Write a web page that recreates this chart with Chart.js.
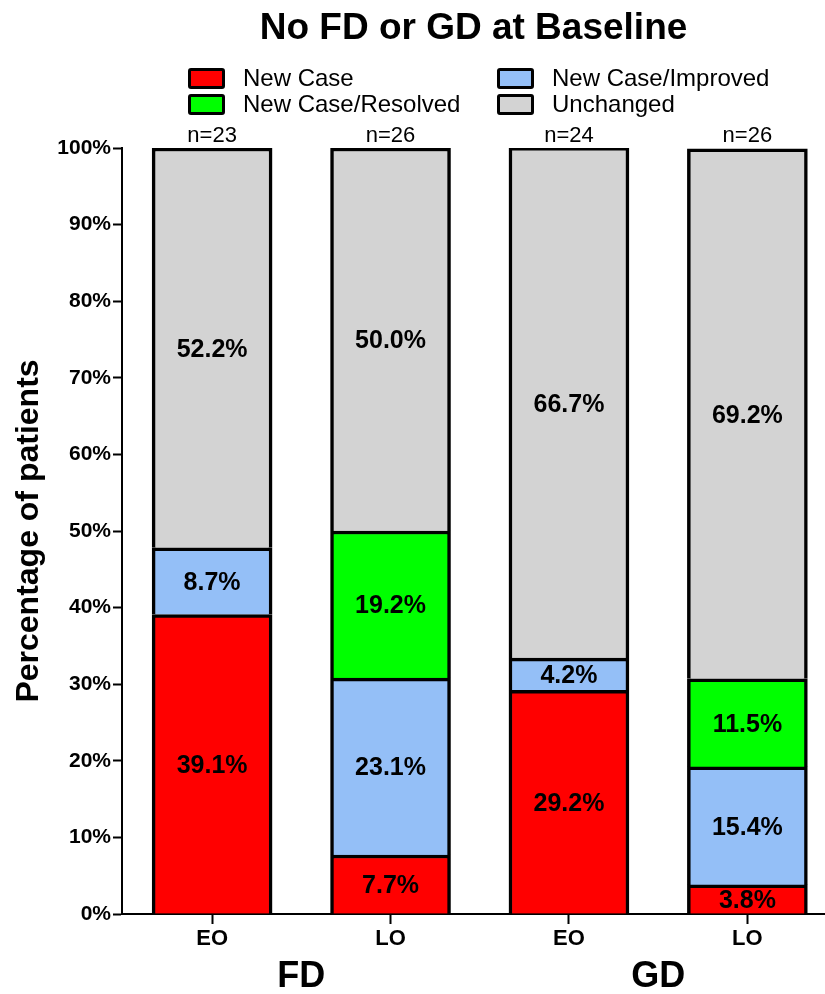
<!DOCTYPE html>
<html>
<head>
<meta charset="utf-8">
<script src="https://cdn.jsdelivr.net/npm/chart.js@4.4.1/dist/chart.umd.min.js"></script>
<style>
    html, body { margin: 0; padding: 0; background: #fff; overflow: hidden; }
    #wrap { position: relative; width: 825px; height: 994px; }
    #legend { position: absolute; left: 188px; top: 65px; font-family: "Liberation Sans", Arial, sans-serif; font-size: 24px; color: #000; }
    .item { position: absolute; white-space: nowrap; display: flex; align-items: center; height: 26px; }
    .box { width: 31px; height: 15px; border: 3px solid #000; border-radius: 3px; margin-right: 18px; }
</style>
</head>
<body>
<div id="wrap">
    <canvas id="chart" width="825" height="994"></canvas>
    <div id="legend"></div>
</div>
<script>
const groups = ['EO', 'LO', 'EO', 'LO'];
const groupTitles = ['FD', 'GD'];
const counts = ['n=23', 'n=26', 'n=24', 'n=26'];

const newCase = [39.1, 7.7, 29.2, 3.8];
const newCaseImproved = [8.7, 23.1, 4.2, 15.4];
const newCaseResolved = [null, 19.2, null, 11.5];
const unchanged = [52.2, 50.0, 66.7, 69.2];

const yTicks = [0, 10, 20, 30, 40, 50, 60, 70, 80, 90, 100];

const series = [
    { label: 'New Case', data: newCase, color: '#FF0000' },
    { label: 'New Case/Improved', data: newCaseImproved, color: '#94BFF7' },
    { label: 'New Case/Resolved', data: newCaseResolved, color: '#00FF00' },
    { label: 'Unchanged', data: unchanged, color: '#D3D3D3' }
];

// legend laid out in two columns like the original
const legendPos = [[0, 0], [309, 0], [0, 26], [309, 26]];
const legendEl = document.getElementById('legend');
series.forEach((s, i) => {
    const div = document.createElement('div');
    div.className = 'item';
    div.style.left = legendPos[i][0] + 'px';
    div.style.top = legendPos[i][1] + 'px';
    div.innerHTML = '<span class="box" style="background:' + s.color + '"></span>' + s.label;
    legendEl.appendChild(div);
});

const FONT = '"Liberation Sans", Arial, sans-serif';

const labelsPlugin = {
    id: 'labels',
    afterDatasetsDraw(chart) {
        const ctx = chart.ctx;
        const x = chart.scales.x;
        ctx.save();
        ctx.fillStyle = '#000';
        ctx.textAlign = 'center';
        ctx.textBaseline = 'middle';
        ctx.font = 'bold 25px ' + FONT;
        chart.data.datasets.forEach((ds, di) => {
            chart.getDatasetMeta(di).data.forEach((bar, k) => {
                const p = ds.data[k];
                const mid = (bar.y + bar.base) / 2;
                ctx.fillText(p.y.toFixed(1) + '%', bar.x, mid + 2);
            });
        });
        ctx.font = '22px ' + FONT;
        counts.forEach((c, i) => ctx.fillText(c, x.getPixelForValue(i), 136));
        ctx.font = 'bold 36px ' + FONT;
        groupTitles.forEach((g, i) => ctx.fillText(g, x.getPixelForValue(i * 2 + 0.5), 977));
        ctx.font = 'bold 37px ' + FONT;
        ctx.fillText('No FD or GD at Baseline', (chart.chartArea.left + chart.chartArea.right) / 2, 29);
        ctx.restore();
    }
};

new Chart(document.getElementById('chart'), {
    type: 'bar',
    data: {
        datasets: series.map(s => ({
            label: s.label,
            data: s.data.map((v, i) => ({ x: i, y: v })).filter(p => p.y !== null),
            backgroundColor: s.color,
            borderColor: '#000',
            borderWidth: 3.5,
            barThickness: 120
        }))
    },
    options: {
        responsive: false,
        animation: false,
        layout: { padding: { top: 148, right: 0, left: 0, bottom: 0 } },
        plugins: { legend: { display: false }, tooltip: { enabled: false } },
        scales: {
            x: {
                type: 'linear',
                stacked: true,
                offset: false,
                min: -0.505,
                max: 3.435,
                afterBuildTicks: s => { s.ticks = groups.map((g, i) => ({ value: i })); },
                afterFit: s => { s.height = 80; },
                grid: { offset: false, drawOnChartArea: false, tickLength: 10, tickColor: '#000', tickWidth: 2 },
                border: { display: true, color: '#000', width: 2 },
                ticks: {
                    callback: v => groups[v],
                    color: '#000',
                    font: { family: FONT, size: 22, weight: 'bold' },
                    padding: 2,
                    maxRotation: 0
                }
            },
            y: {
                stacked: true,
                min: 0,
                max: 100,
                afterBuildTicks: s => { s.ticks = yTicks.map(v => ({ value: v })); },
                afterFit: s => { s.width = 122; },
                grid: { drawOnChartArea: false, tickLength: 9, tickColor: '#000', tickWidth: 2 },
                border: { display: true, color: '#000', width: 2 },
                ticks: {
                    callback: v => v + '%',
                    color: '#000',
                    font: { family: FONT, size: 21, weight: 'bold' },
                    padding: 2
                },
                title: {
                    display: true,
                    text: 'Percentage of patients',
                    color: '#000',
                    font: { family: FONT, size: 32, weight: 'bold' },
                    padding: { top: 10, bottom: 4 }
                }
            }
        }
    },
    plugins: [labelsPlugin]
});
</script>
</body>
</html>
